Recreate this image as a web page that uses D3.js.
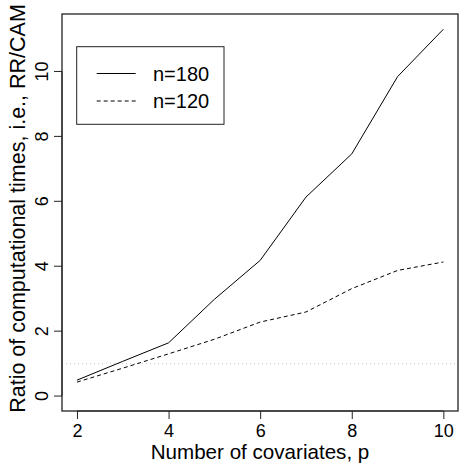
<!DOCTYPE html>
<html><head><meta charset="utf-8">
<script src="https://cdn.jsdelivr.net/npm/d3@7"></script>
<style>body{margin:0;background:#fff}svg{display:block}text{font-family:"Liberation Sans",Arial,Helvetica,sans-serif;fill:#000}</style>
</head><body><svg id="c" width="459" height="464"></svg>
<script>
const p = [2,3,4,5,6,7,8,9,10];
const n180 = [0.49,1.07,1.64,2.98,4.18,6.13,7.46,9.84,11.30];
const n120 = [0.43,0.86,1.30,1.75,2.28,2.59,3.31,3.87,4.13];
const xTicks = [2,4,6,8,10];
const yTicks = [0,2,4,6,8,10];
const legendLabels = ["n=180","n=120"];
const refLevel = 1;

const svg = d3.select("#c");
const L=62, R=458, T=14, B=411;
const x = d3.scaleLinear().domain([1.673,10.32]).range([L,R]);
const y = d3.scaleLinear().domain([-0.46,11.77]).range([B,T]);
const fsTick = 18, fsX = 20.6, fsY = 21.5, fsLeg = 20;
const ff = "Liberation Sans, Arial, sans-serif";

// reference line
svg.append("line").attr("x1",L).attr("x2",R).attr("y1",y(refLevel)).attr("y2",y(refLevel))
  .attr("stroke","#c8c8c8").attr("stroke-width",1).attr("stroke-dasharray","1,3");

const line = d3.line().x(d=>x(d[0])).y(d=>y(d[1]));
svg.append("path").datum(p.map((v,i)=>[v,n180[i]])).attr("d",line)
  .attr("fill","none").attr("stroke","#000").attr("stroke-width",1);
svg.append("path").datum(p.map((v,i)=>[v,n120[i]])).attr("d",line)
  .attr("fill","none").attr("stroke","#000").attr("stroke-width",1).attr("stroke-dasharray","4,3");

// box
svg.append("rect").attr("x",L).attr("y",T).attr("width",R-L).attr("height",B-T)
  .attr("fill","none").attr("stroke","#222").attr("stroke-width",1.3);

// x axis
const xa = svg.append("g").attr("transform",`translate(0,${B})`)
  .call(d3.axisBottom(x).tickValues(xTicks).tickSize(8).tickPadding(5).tickFormat(d3.format("d")));
xa.select(".domain").attr("d",`M${x(2)},0H${x(10)}`).attr("stroke","#222");
xa.selectAll("line").attr("stroke","#222");
xa.selectAll("text").attr("font-size",fsTick).attr("font-family",ff).attr("fill","#000").attr("dy","0.71em");

// y axis
const ya = svg.append("g").attr("transform",`translate(${L},0)`)
  .call(d3.axisLeft(y).tickValues(yTicks).tickSize(8).tickFormat(d3.format("d")));
ya.select(".domain").attr("d",`M0,${y(0)}V${y(10)}`).attr("stroke","#222");
ya.selectAll("line").attr("stroke","#222");
ya.selectAll("text").attr("font-size",fsTick).attr("font-family",ff).attr("fill","#000")
  .attr("x",null).attr("dy",null)
  .attr("transform",d=>`translate(-14,${y(d)}) rotate(-90)`).attr("y",0)
  .attr("text-anchor","middle");
ya.selectAll(".tick").attr("transform",null);
ya.selectAll(".tick line").attr("transform",d=>`translate(0,${y(d)})`);

// axis titles
svg.append("text").attr("x",(L+R)/2).attr("y",459).attr("text-anchor","middle")
  .attr("font-size",fsX).text("Number of covariates, p");
svg.append("text").attr("transform",`translate(25,${(T+B)/2 - 4}) rotate(-90)`).attr("text-anchor","middle")
  .attr("font-size",fsY).text("Ratio of computational times, i.e., RR/CAM");

// legend
svg.append("rect").attr("x",76.7).attr("y",46.7).attr("width",147.3).attr("height",77.6)
  .attr("fill","#fff").attr("stroke","#222").attr("stroke-width",1);
const ly=[73.5,101];
legendLabels.forEach((t,i)=>{
  svg.append("line").attr("x1",96.7).attr("x2",135.7).attr("y1",ly[i]).attr("y2",ly[i])
    .attr("stroke","#000").attr("stroke-width",1).attr("stroke-dasharray",i?"4,3":null);
  svg.append("text").attr("x",153).attr("y",ly[i]).attr("dy","0.36em").attr("font-size",fsLeg).text(t);
});
</script></body></html>
